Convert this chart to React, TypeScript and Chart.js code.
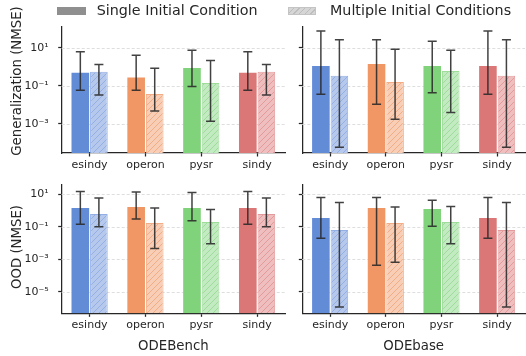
import React, { useEffect, useRef } from 'react';
import { Chart, registerables } from 'chart.js';
Chart.register(...registerables);

// ---------- data ----------
const methods = ['esindy', 'operon', 'pysr', 'sindy'];
const seriesNames = ['Single Initial Condition', 'Multiple Initial Conditions'];
const solidColors = ['#638cd7', '#f09765', '#80d37b', '#dc7777'];
const hatchFills = ['#b6c9ec', '#f8ceb7', '#c3ebc1', '#efbfbf'];
const hatchLines = ['#93afe3', '#f2ad86', '#9edc9a', '#e39a9a'];

const topTicks = [1e-3, 1e-1, 1e1];
const bottomTicks = [1e-5, 1e-3, 1e-1, 1e1];

// Generalization / ODEBench
const genBenchSingle = [0.49, 0.27, 0.87, 0.49];
const genBenchSingleLo = [0.059, 0.059, 0.091, 0.059];
const genBenchSingleHi = [6.2, 4.0, 7.3, 6.2];
const genBenchMulti = [0.54, 0.037, 0.14, 0.54];
const genBenchMultiLo = [0.033, 0.0048, 0.0014, 0.033];
const genBenchMultiHi = [1.3, 0.83, 2.1, 1.3];

// Generalization / ODEbase
const genBaseSingle = [1.1, 1.4, 1.1, 1.1];
const genBaseSingleLo = [0.036, 0.011, 0.043, 0.036];
const genBaseSingleHi = [75, 26, 21.6, 75];
const genBaseMulti = [0.34, 0.16, 0.6, 0.34];
const genBaseMultiLo = [6e-5, 0.0018, 0.004, 6e-5];
const genBaseMultiHi = [26, 8.2, 7.3, 26];

// OOD / ODEBench
const oodBenchSingle = [1.45, 1.66, 1.45, 1.45];
const oodBenchSingleLo = [0.145, 0.3, 0.24, 0.145];
const oodBenchSingleHi = [15, 13.8, 13, 15];
const oodBenchMulti = [0.62, 0.17, 0.2, 0.62];
const oodBenchMultiLo = [0.1, 0.0046, 0.0093, 0.1];
const oodBenchMultiHi = [5.9, 1.45, 1.15, 5.9];

// OOD / ODEbase
const oodBaseSingle = [0.35, 1.45, 1.26, 0.35];
const oodBaseSingleLo = [0.02, 0.00044, 0.11, 0.02];
const oodBaseSingleHi = [6.3, 6.3, 4.3, 6.3];
const oodBaseMulti = [0.065, 0.17, 0.2, 0.065];
const oodBaseMultiLo = [1.2e-6, 0.00068, 0.009, 1.2e-6];
const oodBaseMultiHi = [3.1, 1.66, 1.8, 3.1];

// ---------- helpers ----------
const FONT = "'DejaVu Sans', sans-serif";
const TEXT = '#262626';
const SUP: Record<string, string> = {
  '0': '⁰', '1': '¹', '2': '²', '3': '³', '4': '⁴', '5': '⁵', '6': '⁶', '7': '⁷', '8': '⁸', '9': '⁹', '-': '⁻',
};
function fmtPow(v: number) {
  const e = Math.round(Math.log10(v));
  return '10' + String(e).split('').map((c) => SUP[c] || c).join('');
}

function makeHatch(fill: string, line: string) {
  const s = 6;
  const c = document.createElement('canvas');
  c.width = s;
  c.height = s;
  const g = c.getContext('2d')!;
  g.fillStyle = fill;
  g.fillRect(0, 0, s, s);
  g.strokeStyle = line;
  g.lineWidth = 1;
  g.beginPath();
  g.moveTo(0, s);
  g.lineTo(s, 0);
  g.moveTo(-1, 1);
  g.lineTo(1, -1);
  g.moveTo(s - 1, s + 1);
  g.lineTo(s + 1, s - 1);
  g.stroke();
  return g.createPattern(c, 'repeat');
}

type PanelCfg = {
  left: number; top: number; width: number; height: number;
  padTop: number; padRight: number; yWidth: number; xHeight: number;
  yMin: number; yMax: number; yTicks: number[]; showYLabels: boolean;
  yTitle?: string; yTitleCenter?: number; xTitle?: string;
  single: number[]; singleLo: number[]; singleHi: number[];
  multi: number[]; multiLo: number[]; multiHi: number[];
};

function Panel({ cfg }: { cfg: PanelCfg }) {
  const ref = useRef<HTMLCanvasElement>(null);
  useEffect(() => {
    const canvas = ref.current!;
    const patterns = hatchFills.map((f, i) => makeHatch(f, hatchLines[i]));
    const lows = [cfg.singleLo, cfg.multiLo];
    const highs = [cfg.singleHi, cfg.multiHi];

    const gridPlugin = {
      id: 'dashGrid',
      beforeDatasetsDraw(chart: any) {
        const { ctx, chartArea } = chart;
        const ys = chart.scales.y;
        ctx.save();
        ctx.strokeStyle = '#dedede';
        ctx.lineWidth = 1;
        ctx.setLineDash([3, 2]);
        cfg.yTicks.forEach((t) => {
          const y = Math.round(ys.getPixelForValue(t)) + 0.5;
          ctx.beginPath();
          ctx.moveTo(chartArea.left, y);
          ctx.lineTo(chartArea.right, y);
          ctx.stroke();
        });
        ctx.restore();
      },
    };

    const errPlugin = {
      id: 'errBars',
      afterDatasetsDraw(chart: any) {
        const { ctx } = chart;
        const ys = chart.scales.y;
        ctx.save();
        ctx.strokeStyle = 'rgba(40,40,40,0.88)';
        ctx.lineWidth = 1.5;
        for (let d = 0; d < 2; d++) {
          const meta = chart.getDatasetMeta(d);
          meta.data.forEach((bar: any, j: number) => {
            const x = bar.x;
            const y1 = ys.getPixelForValue(lows[d][j]);
            const y2 = ys.getPixelForValue(highs[d][j]);
            ctx.beginPath();
            ctx.moveTo(x, y1);
            ctx.lineTo(x, y2);
            ctx.moveTo(x - 4.5, y1);
            ctx.lineTo(x + 4.5, y1);
            ctx.moveTo(x - 4.5, y2);
            ctx.lineTo(x + 4.5, y2);
            ctx.stroke();
          });
        }
        ctx.restore();
      },
    };

    const yTitlePlugin = {
      id: 'yTitle',
      afterDraw(chart: any) {
        if (!cfg.yTitle) return;
        const { ctx } = chart;
        ctx.save();
        ctx.translate(17.5, (cfg.yTitleCenter || 0) - cfg.top);
        ctx.rotate(-Math.PI / 2);
        ctx.font = `13.3px ${FONT}`;
        ctx.fillStyle = TEXT;
        ctx.textAlign = 'center';
        ctx.textBaseline = 'middle';
        ctx.fillText(cfg.yTitle, 0, 0);
        ctx.restore();
      },
    };

    const chart = new Chart(canvas, {
      type: 'bar',
      data: {
        labels: methods,
        datasets: [
          {
            label: seriesNames[0],
            data: cfg.single,
            backgroundColor: solidColors,
            borderWidth: 0,
          },
          {
            label: seriesNames[1],
            data: cfg.multi,
            backgroundColor: patterns as any,
            borderColor: hatchLines,
            borderWidth: 1,
          },
        ],
      },
      options: {
        responsive: false,
        maintainAspectRatio: false,
        animation: false,
        devicePixelRatio: 1,
        layout: { padding: { top: cfg.padTop, right: cfg.padRight, left: 0, bottom: 0 } },
        plugins: { legend: { display: false }, tooltip: { enabled: false } },
        datasets: { bar: { categoryPercentage: 0.665, barPercentage: 0.95 } },
        scales: {
          x: {
            type: 'category',
            offset: true,
            grid: {
              display: true,
              drawOnChartArea: false,
              drawTicks: true,
              tickLength: 3.5,
              tickWidth: 1.25,
              tickColor: TEXT,
              offset: false,
            },
            border: { display: true, color: TEXT, width: 1.25 },
            ticks: {
              color: TEXT,
              font: { family: FONT, size: 11 },
              padding: 2,
              autoSkip: false,
              maxRotation: 0,
            },
            title: {
              display: !!cfg.xTitle,
              text: cfg.xTitle || '',
              color: TEXT,
              font: { family: FONT, size: 13.3, lineHeight: 1.2 },
              padding: { top: 0, bottom: 1.5 },
            },
            afterFit: (s: any) => {
              s.height = cfg.xHeight;
              s.paddingLeft = 0;
              s.paddingRight = 0;
            },
          },
          y: {
            type: 'logarithmic',
            min: cfg.yMin,
            max: cfg.yMax,
            afterBuildTicks: (s: any) => {
              s.ticks = cfg.yTicks.map((v) => ({ value: v }));
            },
            grid: {
              display: true,
              drawOnChartArea: false,
              drawTicks: true,
              tickLength: 3.5,
              tickWidth: 1.25,
              tickColor: TEXT,
            },
            border: { display: true, color: TEXT, width: 1.25 },
            ticks: {
              display: cfg.showYLabels,
              autoSkip: false,
              color: TEXT,
              font: { family: FONT, size: 11 },
              padding: 9.5,
              callback: (v: any) => fmtPow(Number(v)),
            },
            title: { display: false },
            afterFit: (s: any) => {
              s.width = cfg.yWidth;
              s.paddingTop = 0;
              s.paddingBottom = 0;
            },
          },
        },
      } as any,
      plugins: [gridPlugin, errPlugin, yTitlePlugin],
    });
    return () => chart.destroy();
  }, [cfg]);

  return (
    <canvas
      ref={ref}
      width={cfg.width}
      height={cfg.height}
      style={{
        position: 'absolute',
        left: cfg.left,
        top: cfg.top,
        width: cfg.width,
        height: cfg.height,
      }}
    />
  );
}

const TOP_MIN = Math.pow(10, -4.52);
const TOP_MAX = Math.pow(10, 2.11);
const BOT_MIN = Math.pow(10, -6.31);
const BOT_MAX = Math.pow(10, 1.57);

const panels: PanelCfg[] = [
  {
    left: 0, top: 0, width: 290, height: 180, padTop: 26.5, padRight: 5, yWidth: 61.7, xHeight: 27,
    yMin: TOP_MIN, yMax: TOP_MAX, yTicks: topTicks, showYLabels: true,
    yTitle: 'Generalization (NMSE)', yTitleCenter: 81,
    single: genBenchSingle, singleLo: genBenchSingleLo, singleHi: genBenchSingleHi,
    multi: genBenchMulti, multiLo: genBenchMultiLo, multiHi: genBenchMultiHi,
  },
  {
    left: 292, top: 0, width: 234, height: 180, padTop: 26.5, padRight: 1, yWidth: 10.3, xHeight: 27,
    yMin: TOP_MIN, yMax: TOP_MAX, yTicks: topTicks, showYLabels: false,
    single: genBaseSingle, singleLo: genBaseSingleLo, singleHi: genBaseSingleHi,
    multi: genBaseMulti, multiLo: genBaseMultiLo, multiHi: genBaseMultiHi,
  },
  {
    left: 0, top: 178, width: 290, height: 178, padTop: 7, padRight: 5, yWidth: 61.7, xHeight: 42.7,
    yMin: BOT_MIN, yMax: BOT_MAX, yTicks: bottomTicks, showYLabels: true,
    yTitle: 'OOD (NMSE)', yTitleCenter: 247, xTitle: 'ODEBench',
    single: oodBenchSingle, singleLo: oodBenchSingleLo, singleHi: oodBenchSingleHi,
    multi: oodBenchMulti, multiLo: oodBenchMultiLo, multiHi: oodBenchMultiHi,
  },
  {
    left: 292, top: 178, width: 234, height: 178, padTop: 7, padRight: 1, yWidth: 10.3, xHeight: 42.7,
    yMin: BOT_MIN, yMax: BOT_MAX, yTicks: bottomTicks, showYLabels: false,
    xTitle: 'ODEbase',
    single: oodBaseSingle, singleLo: oodBaseSingleLo, singleHi: oodBaseSingleHi,
    multi: oodBaseMulti, multiLo: oodBaseMultiLo, multiHi: oodBaseMultiHi,
  },
];

export default function App() {
  const legendText: React.CSSProperties = {
    position: 'absolute',
    top: 2,
    fontFamily: FONT,
    fontSize: 14.3,
    lineHeight: '17px',
    color: TEXT,
    whiteSpace: 'nowrap',
  };
  return (
    <div
      style={{
        position: 'absolute',
        left: 0,
        top: 0,
        width: 526,
        height: 356,
        background: '#fff',
        overflow: 'hidden',
      }}
    >
      {panels.map((p, i) => (
        <Panel key={i} cfg={p} />
      ))}
      <div style={{ position: 'absolute', left: 57, top: 7, width: 29, height: 8, background: '#8f8f8f' }} />
      <span style={{ ...legendText, left: 96.7 }}>{seriesNames[0]}</span>
      <div
        style={{
          position: 'absolute',
          left: 288,
          top: 7,
          width: 28,
          height: 8,
          boxSizing: 'border-box',
          border: '1px solid #c4c4c4',
          background:
            'repeating-linear-gradient(135deg, #d6d6d6 0px, #d6d6d6 3px, #bdbdbd 3px, #bdbdbd 4px)',
        }}
      />
      <span style={{ ...legendText, left: 330 }}>{seriesNames[1]}</span>
    </div>
  );
}
